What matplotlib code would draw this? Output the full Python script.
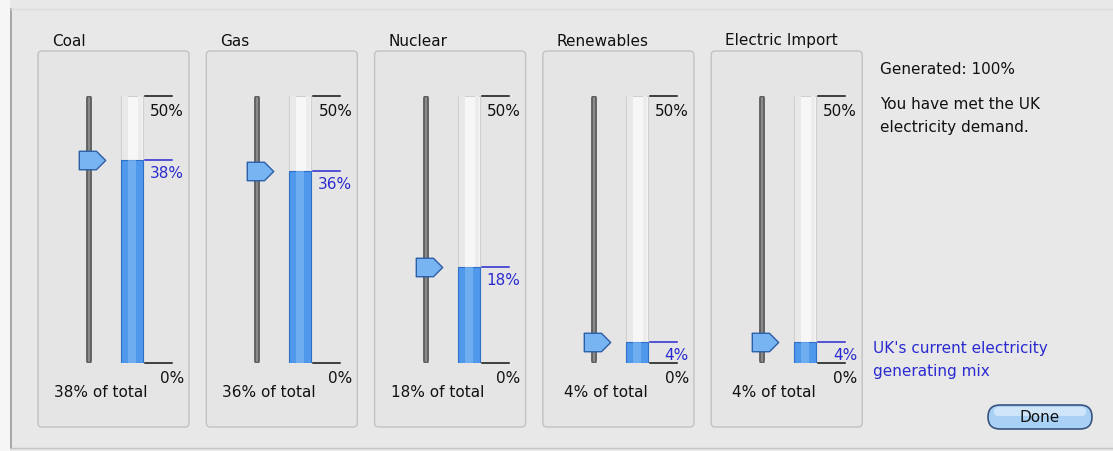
import matplotlib.pyplot as plt
import numpy as np
from matplotlib.patches import FancyBboxPatch, Rectangle
from matplotlib.path import Path

# 발전원별 비율 (%)
sources = ['Coal', 'Gas', 'Nuclear', 'Renewables', 'Electric Import']
shares = [38, 36, 18, 4, 4]
scale_max = 50
total_text = 'Generated: 100%'
status_text = 'You have met the UK\nelectricity demand.'
legend_text = "UK's current electricity\ngenerating mix"

W, H = 1113, 452
BG = '#e8e8e8'
BLUE_TXT = '#2a2ad0'
FS = 11

fig = plt.figure(figsize=(W / 100, H / 100), dpi=100)
fig.patch.set_facecolor(BG)

# 바탕 (픽셀 좌표)
base = fig.add_axes([0, 0, 1, 1])
base.set_xlim(0, W)
base.set_ylim(H, 0)
base.axis('off')
base.add_patch(Rectangle((0, 0), 10, H, facecolor='#f6f6f6', edgecolor='none'))
base.plot([11, 11], [10, 449], color='#9a9a9a', lw=1.2)
base.plot([11, W], [449, 449], color='#c4c4c4', lw=1)
base.plot([11, W], [10, 10], color='#dcdcdc', lw=1)

# 슬라이더 손잡이 모양
thumb = Path([(-1, -0.7), (0.3, -0.7), (1, 0), (0.3, 0.7), (-1, 0.7), (-1, -0.7)],
             [Path.MOVETO, Path.LINETO, Path.LINETO, Path.LINETO, Path.LINETO, Path.CLOSEPOLY])

step = 168.3
for i, (name, val) in enumerate(zip(sources, shares)):
    x0 = 38 + i * step
    base.add_patch(FancyBboxPatch((x0, 52), 151, 376, boxstyle='round,pad=0,rounding_size=4',
                                  facecolor='#e5e5e5', edgecolor='#c2c2c2', lw=1))
    base.text(x0 + 14, 41, name, fontsize=FS, color='#111111', va='center')
    base.text(x0 + 63, 393, f'{val}% of total', fontsize=FS, color='#111111',
              ha='center', va='center')

    # 막대 영역: 가로는 픽셀, 세로는 0~50%
    ax = fig.add_axes([(x0 + 40) / W, 1 - 364 / H, 112 / W, 267 / H])
    ax.set_xlim(x0 + 40, x0 + 152)
    ax.set_ylim(0, scale_max)
    ax.axis('off')
    ax.patch.set_alpha(0)
    bx = x0 + 94
    ax.bar([bx], [scale_max], width=22, color='#f7f7f7', edgecolor='#d0d0d0', lw=0.8)
    ax.bar([bx - 7], [scale_max], width=6, color='#e9e9e9', edgecolor='none')
    ax.bar([bx + 8], [scale_max], width=4, color='#ececec', edgecolor='none')
    ax.bar([bx], [val], width=22, color='#4f98ec', edgecolor='#2f6fc8', lw=0.8)
    ax.bar([bx], [val], width=8, color='#7db6f4', edgecolor='none', alpha=0.7)

    # 슬라이더
    sx = x0 + 51
    ax.plot([sx, sx], [0.3, scale_max - 0.3], color='#5e5e5e', lw=4.2, solid_capstyle='round')
    ax.plot([sx, sx], [0.3, scale_max - 0.3], color='#8a8a8a', lw=1.6, solid_capstyle='round')
    ax.plot([sx + 3], [val], marker=thumb, markersize=19, color='#78b4f2',
            markeredgecolor='#2c5fa8', markeredgewidth=1, clip_on=False)

    # 눈금선과 라벨
    lx0, lx1 = x0 + 107, x0 + 134
    ax.plot([lx0, lx1], [scale_max, scale_max], color='#111111', lw=1.1, clip_on=False)
    ax.plot([lx0, lx1], [0, 0], color='#111111', lw=1.1, clip_on=False)
    ax.plot([lx0, lx1], [val, val], color=BLUE_TXT, lw=1.1, clip_on=False)
    ax.annotate(f'{scale_max}%', (x0 + 146, scale_max), xytext=(0, -5),
                textcoords='offset points', ha='right', va='top', fontsize=FS,
                color='#111111', annotation_clip=False)
    ax.annotate('0%', (x0 + 146, 0), xytext=(0, -5), textcoords='offset points',
                ha='right', va='top', fontsize=FS, color='#111111', annotation_clip=False)
    ax.annotate(f'{val}%', (x0 + 146, val), xytext=(0, -3.5), textcoords='offset points',
                ha='right', va='top', fontsize=FS, color=BLUE_TXT, annotation_clip=False)

# 오른쪽 설명
base.text(880, 70, total_text, fontsize=FS, color='#111111', va='center')
base.text(880, 116, status_text, fontsize=FS, color='#111111', va='center', linespacing=1.6)
base.text(873, 360, legend_text, fontsize=FS, color=BLUE_TXT, va='center', linespacing=1.6)

# Done 버튼
base.add_patch(FancyBboxPatch((988, 406), 104, 24, boxstyle='round,pad=0,rounding_size=12',
                              facecolor='#a9d0f5', edgecolor='#37557e', lw=1.2))
base.add_patch(FancyBboxPatch((994, 408), 92, 9, boxstyle='round,pad=0,rounding_size=4.5',
                              facecolor='#d9ecfc', edgecolor='none', alpha=0.8))
base.text(1040, 418, 'Done', fontsize=FS, color='#111111', ha='center', va='center')

plt.savefig('out.png', dpi=100, facecolor=BG)
